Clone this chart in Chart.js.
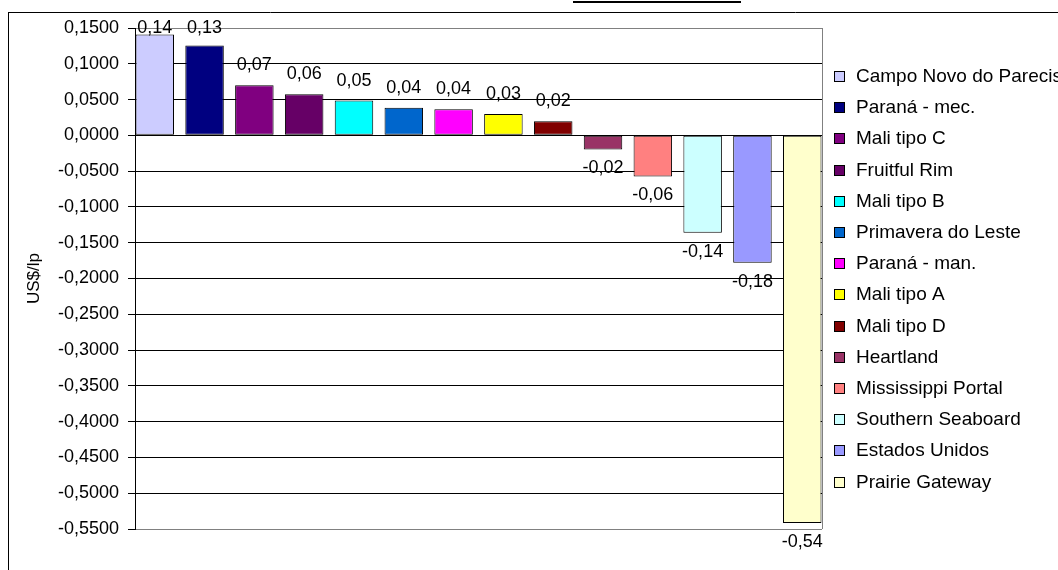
<!DOCTYPE html>
<html>
<head>
<meta charset="utf-8">
<script src="https://cdn.jsdelivr.net/npm/chart.js@4.4.1/dist/chart.umd.min.js"></script>
<style>
    html, body { margin: 0; padding: 0; background: #fff; }
    canvas { display: block; }
</style>
</head>
<body>
<canvas id="myChart" width="1058" height="570"></canvas>

<script>
    // data
    var regions = ['Campo Novo do Parecis', 'Paraná - mec.', 'Mali tipo C', 'Fruitful Rim', 'Mali tipo B',
        'Primavera do Leste', 'Paraná - man.', 'Mali tipo A', 'Mali tipo D', 'Heartland',
        'Mississippi Portal', 'Southern Seaboard', 'Estados Unidos', 'Prairie Gateway'];
    var values = [0.1408, 0.1255, 0.0700, 0.0575, 0.0486, 0.0384, 0.0366, 0.0300, 0.0198,
        -0.0198, -0.0575, -0.1360, -0.1780, -0.5416];
    var colors = ['#CCCCFF', '#000080', '#800080', '#660066', '#00FFFF', '#0066CC', '#FF00FF',
        '#FFFF00', '#800000', '#993366', '#FF8080', '#CCFFFF', '#9999FF', '#FFFFCC'];
    var yMin = -0.55, yMax = 0.15, yStep = 0.05;
    var yTitle = 'US$/lp';

    var FONT = "'Liberation Sans', Arial, sans-serif";
    Chart.defaults.font.family = FONT;
    Chart.defaults.color = '#000';

    function comma(v, d) {
        var s = v.toFixed(d);
        if (parseFloat(s) === 0) s = (0).toFixed(d);
        return s.replace('.', ',');
    }

    // white page, frame lines of the document around the chart
    var pageFrame = {
        id: 'pageFrame',
        beforeDraw: function (chart) {
            var c = chart.ctx;
            c.save();
            c.fillStyle = '#fff';
            c.fillRect(0, 0, chart.width, chart.height);
            c.strokeStyle = '#000';
            c.lineWidth = 1;
            c.beginPath();
            c.moveTo(8.5, 12);
            c.lineTo(8.5, chart.height);
            c.moveTo(8, 12.5);
            c.lineTo(chart.width, 12.5);
            c.stroke();
            c.lineWidth = 2;
            c.beginPath();
            c.moveTo(573, 2);
            c.lineTo(741, 2);
            c.stroke();
            c.restore();
        },
        afterDatasetsDraw: function (chart) {
            var a = chart.chartArea, c = chart.ctx;
            c.save();
            c.strokeStyle = '#808080';
            c.lineWidth = 1;
            c.beginPath();
            c.moveTo(Math.round(a.right) + 0.5, a.top);
            c.lineTo(Math.round(a.right) + 0.5, a.bottom);
            c.stroke();
            c.restore();
        }
    };

    // value labels outside the bar ends
    var barLabels = {
        id: 'barLabels',
        afterDatasetsDraw: function (chart) {
            var c = chart.ctx;
            c.save();
            c.font = '18px ' + FONT;
            c.fillStyle = '#000';
            c.textAlign = 'center';
            chart.data.datasets.forEach(function (ds, i) {
                var bar = chart.getDatasetMeta(i).data[0];
                var v = ds.data[0];
                if (v >= 0) {
                    c.textBaseline = 'alphabetic';
                    c.fillText(comma(v, 2), bar.x, Math.max(bar.y - 15, chart.chartArea.top + 5));
                } else {
                    c.textBaseline = 'top';
                    c.fillText(comma(v, 2), bar.x, bar.y + 10);
                }
            });
            c.restore();
        }
    };

    // legend on the right, one row per series
    var sideLegend = {
        id: 'sideLegend',
        afterDraw: function (chart) {
            var c = chart.ctx;
            c.save();
            c.font = '19px ' + FONT;
            c.textBaseline = 'middle';
            c.textAlign = 'left';
            chart.data.datasets.forEach(function (ds, i) {
                var y = Math.round(76 + i * 31.2);
                c.fillStyle = ds.backgroundColor;
                c.fillRect(834, y - 5, 10, 10);
                c.strokeStyle = '#000';
                c.lineWidth = 1;
                c.strokeRect(834.5, y - 4.5, 10, 10);
                c.fillStyle = '#000';
                c.fillText(ds.label, 856, y + 1);
            });
            c.restore();
        }
    };

    var datasets = regions.map(function (name, i) {
        return {
            label: name,
            data: [values[i]],
            backgroundColor: colors[i],
            borderColor: '#000',
            borderWidth: 1,
            borderSkipped: false,
            categoryPercentage: 1.015,
            barPercentage: 0.773
        };
    });

    const ctx = document.getElementById('myChart');

    new Chart(ctx, {
        type: 'bar',
        data: {
            labels: [''],
            datasets: datasets
        },
        plugins: [pageFrame, barLabels, sideLegend],
        options: {
            responsive: false,
            animation: false,
            devicePixelRatio: 1,
            layout: {
                padding: { left: 24, right: 236, top: 28, bottom: 41 }
            },
            scales: {
                x: {
                    display: false
                },
                y: {
                    min: yMin,
                    max: yMax,
                    afterFit: function (scale) { scale.width = 111; },
                    ticks: {
                        stepSize: yStep,
                        padding: 9,
                        color: '#000',
                        font: { size: 18 },
                        callback: function (v) { return comma(v, 4); }
                    },
                    grid: {
                        tickLength: 7,
                        color: function (c) {
                            var v = c.tick ? c.tick.value : 0;
                            if (Math.abs(v - yMax) < 1e-6 || Math.abs(v - yMin) < 1e-6) return '#808080';
                            return '#000';
                        },
                        tickColor: '#000'
                    },
                    border: { display: true, color: '#000', width: 1 },
                    title: {
                        display: true,
                        text: yTitle,
                        color: '#000',
                        font: { size: 17 },
                        padding: 0
                    }
                }
            },
            plugins: {
                legend: { display: false },
                tooltip: { enabled: false }
            }
        }
    });
</script>
</body>
</html>
